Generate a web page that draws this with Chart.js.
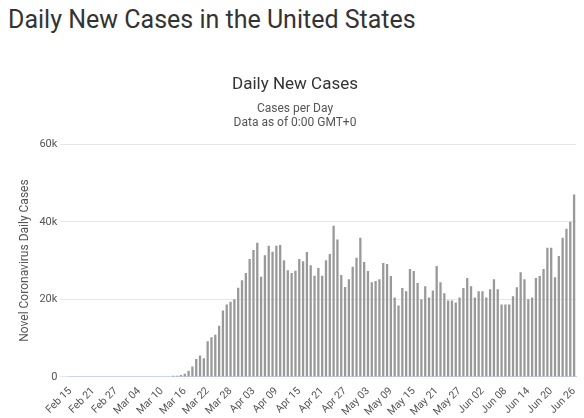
<!doctype html>
<html lang="en">
  <head>
    <meta charset="UTF-8" />
    <title>Daily New Cases</title>
    <script src="https://cdn.jsdelivr.net/npm/chart.js"></script>
    <style>
      body { margin: 0; padding: 0; background: #fff; font-family: Roboto, sans-serif; width: 584px; height: 418px; overflow: hidden; }
      h1 { margin: 0; padding: 4px 0 0 8px; font-size: 25px; font-weight: 400; color: #333; height: 40px; line-height: 32px; }
      .chart-container { position: absolute; left: 0; top: 75px; width: 584px; height: 343px; }
    </style>
  </head>
  <body>
    <h1>Daily New Cases in the United States</h1>
    <div class="chart-container"><canvas id="barChart"></canvas></div>
    <script>
      const startDate = new Date(Date.UTC(2020, 1, 15));
      const leadingZeros = 27;
      const cases = [
        300, 300, 500, 800, 1600, 2700, 4600, 5500, 4800, 9200,
        10200, 10900, 13200, 17100, 18700, 19400, 20000, 23000, 24900, 26800,
        30400, 32700, 34600, 25800, 31400, 33800, 32300, 33800, 34000, 30100,
        27500, 26800, 27400, 30400, 29800, 32200, 28800, 26100, 28100, 26100,
        30100, 31700, 39000, 35400, 26300, 23200, 25200, 28400, 30700, 35900,
        29600, 27300, 24400, 24700, 25200, 29400, 29100, 26000, 20500, 18400,
        22900, 22100, 27800, 27300, 24200, 20000, 23400, 20500, 22300, 28600,
        24400, 21600, 19700, 19700, 19200, 20500, 22900, 25500, 23400, 20500,
        22100, 22100, 20500, 22600, 25200, 22600, 18700, 18700, 18700, 20800,
        23100, 27000, 25200, 20000, 20500, 25500, 26000, 27800, 33300, 33300,
        25700, 31200, 35900, 38200, 40000, 47000
      ];
      const values = new Array(leadingZeros).fill(0).concat(cases);
      const months = ['Jan','Feb','Mar','Apr','May','Jun','Jul'];
      const labels = values.map((v, i) => {
        const d = new Date(startDate.getTime() + i * 86400000);
        return months[d.getUTCMonth()] + ' ' + String(d.getUTCDate()).padStart(2, '0');
      });

      new Chart(document.getElementById('barChart'), {
        type: 'bar',
        data: {
          labels: labels,
          datasets: [{ data: values, backgroundColor: '#999999', barPercentage: 0.6, categoryPercentage: 1 }]
        },
        options: {
          responsive: true,
          maintainAspectRatio: false,
          animation: false,
          layout: { padding: { right: 8, left: 14 } },
          plugins: {
            legend: { display: false },
            tooltip: { enabled: false },
            title: { display: true, text: 'Daily New Cases', color: '#333', font: { family: 'Roboto', size: 17, weight: 'normal' }, padding: { top: 0, bottom: 6 } },
            subtitle: { display: true, text: ['Cases per Day', 'Data as of 0:00 GMT+0'], color: '#555', font: { family: 'Roboto', size: 12 }, padding: { bottom: 14 } }
          },
          scales: {
            x: {
              grid: { display: false },
              border: { color: '#ccd6eb' },
              ticks: {
                autoSkip: false, maxRotation: 45, minRotation: 45, color: '#555', padding: 0,
                font: { family: 'Roboto', size: 10.5 },
                callback: function (val, i) { return i % 6 === 0 ? this.getLabelForValue(val) : ''; }
              }
            },
            y: {
              min: 0, max: 60000,
              ticks: { stepSize: 20000, color: '#555', font: { family: 'Roboto', size: 11 }, callback: v => v === 0 ? '0' : (v / 1000) + 'k' },
              grid: { color: '#e6e6e6' },
              border: { display: false },
              title: { display: true, text: 'Novel Coronavirus Daily Cases', color: '#555', font: { family: 'Roboto', size: 12 } }
            }
          }
        }
      });
    </script>
  </body>
</html>
